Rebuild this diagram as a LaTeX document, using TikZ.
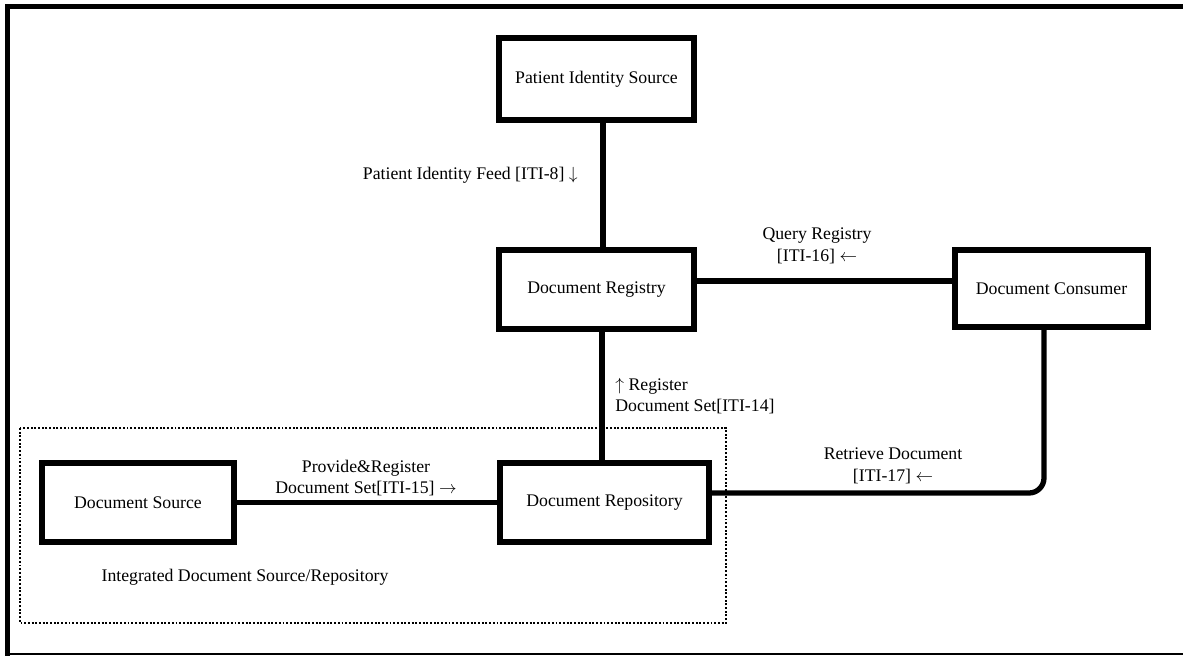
\documentclass[tikz,border=0pt]{standalone}
\usepackage{fontspec}
\setmainfont{Liberation Serif}
\usetikzlibrary{calc}
\tikzset{actor/.style={draw, line width=3pt, inner sep=0pt},
	link/.style={line width=3pt},
	txt/.style={align=center, inner sep=0pt},
}

\begin{document}
\begin{tikzpicture}[x=0.02cm,y=-0.02cm]
			\tikzstyle{every node}=[font=\fontsize{10.1}{12.2}\selectfont]
			\useasboundingbox (0,0) rectangle (1183,656);
			% frame
			\draw[line width=2.85pt] (1183,6.5) -- (7.5,6.5) -- (7.5,656);
			\draw[line width=1.1pt] (7.5,654) -- (1183,654);
			
			% integrated source/repository
			\draw[densely dotted, line width=1.1pt] (20,428) rectangle (726,623);
			\node[txt] (intlabel) at (245,577) {Integrated Document Source/Repository};
			
			\node[actor, minimum width=3.9cm, minimum height=1.64cm] (pis) at (596.5,79) {Patient Identity Source};
			\node[actor, minimum width=3.9cm, minimum height=1.58cm] (reg) at (596.5,289.5) {Document Registry};
			\node[actor, minimum width=3.86cm, minimum height=1.54cm] (cons) at (1051.5,288.5) {Document Consumer};
			\node[actor, minimum width=3.84cm, minimum height=1.58cm] (src) at (138,502.5) {Document Source};
			\node[actor, minimum width=4.18cm, minimum height=1.58cm] (repo) at (604.5,502.5) {Document Repository};
			
			\coordinate (pf) at ([xshift=0.13cm]pis.south);
			\coordinate (qr) at ([yshift=0.17cm]reg.east);
			\coordinate (rd) at ([xshift=0.11cm]reg.south);
			\coordinate (rt) at ([xshift=-0.15cm]cons.south);
			
			\draw[link] (pf) -- (pf |- reg.north);
			\draw[link] (qr) -- (qr -| cons.west);
			\draw[link] (rd) -- (rd |- repo.north);
			\draw[link] (src.east) -- (repo.west);
			\draw[link, line cap=round, rounded corners=0.3cm] (rt) |- ([yshift=0.19cm]repo.east);
			
			\node[txt, anchor=east] (feed) at (578,175) {Patient Identity Feed [ITI-8] $\downarrow$};
			\node[txt] (query) at (817,246) {Query Registry\\{}[ITI-16] $\leftarrow$};
			\node[txt, align=left, anchor=west] (regset) at (615,396) {$\uparrow$ Register\\Document Set[ITI-14]};
			\node[txt] (provide) at (366,478) {Provide\&Register\\Document Set[ITI-15] $\rightarrow$};
			\node[txt] (retrieve) at (893,466) {Retrieve Document\\{}[ITI-17] $\leftarrow$};
			
			\end{tikzpicture}
\end{document}
